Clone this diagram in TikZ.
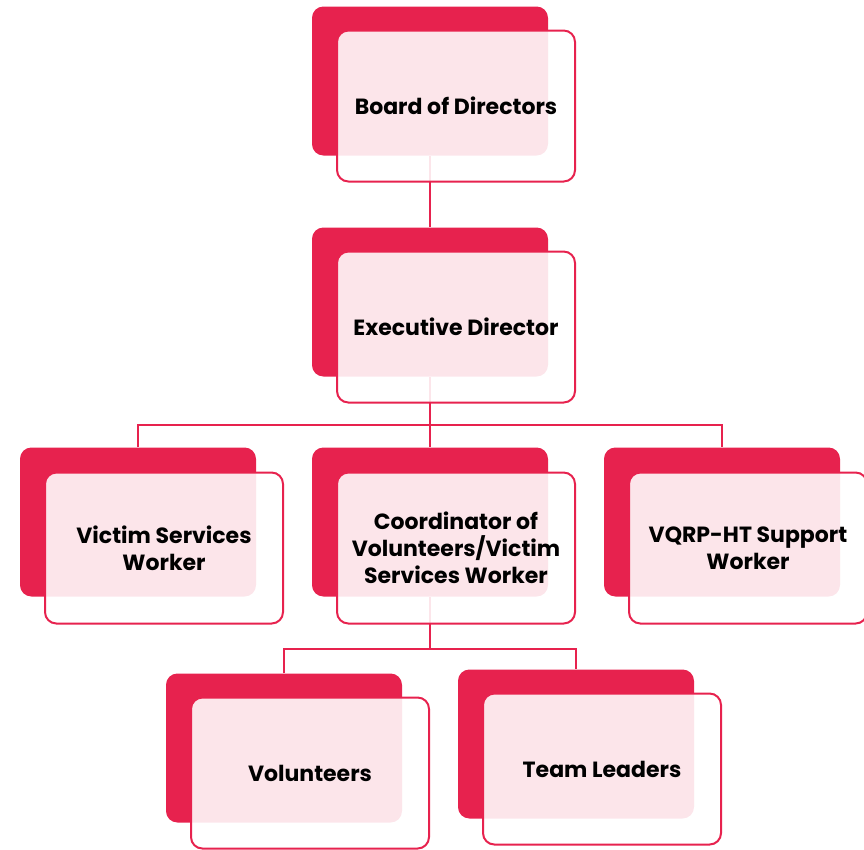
\documentclass[tikz,border=0pt]{standalone}
\usepackage{fontspec}
\setmainfont{Poppins}
\usetikzlibrary{positioning}
\definecolor{colred}{RGB}{231,34,78}
\pgfdeclarelayer{background}
\pgfsetlayers{background,main}
\tikzset{%
     backbox/.style = { fill=colred, rounded corners=4mm, minimum width=236pt, minimum height=149pt, inner sep=0pt },
    frontbox/.style = { draw=colred, line width=2pt, fill=white, fill opacity=0.885, text opacity=1,
                        rounded corners=4mm, minimum width=238pt, minimum height=151pt, inner sep=0pt,
                        align=center, font=\fontsize{22}{27}\selectfont\bfseries },
        link/.style = { draw=colred, line width=2pt }
}
\begin{document}
\begin{tikzpicture}[x=1pt,y=-1pt]

  \useasboundingbox (0,0) rectangle (864,849);

  % top
  \node[backbox]  (board-back) at (430,81) {};
  \node[frontbox] (board) at (456,106) {Board of Directors};

  \node[backbox]  (exec-back) at (430,302) {};
  \node[frontbox] (exec) at (456,327) {Executive Director};

  % middle row
  \node[backbox]  (vsw-back) at (138,522) {};
  \node[frontbox] (vsw) at (164,548) {Victim Services\\Worker};

  \node[backbox]  (coord-back) at (430,522) {};
  \node[frontbox] (coord) at (456,548) {Coordinator of\\Volunteers/Victim\\Services Worker};

  \node[backbox]  (vqrp-back) at (722,522) {};
  \node[frontbox] (vqrp) at (748,548) {VQRP-HT Support\\Worker};

  % bottom row
  \node[backbox]  (vol-back) at (284,748) {};
  \node[frontbox] (vol) at (310,773) {Volunteers};

  \node[backbox]  (team-back) at (576,744) {};
  \node[frontbox] (team) at (602,769) {Team Leaders};

  \coordinate (bus-one) at (430,425);
  \coordinate (bus-two) at (430,649);

  \begin{pgfonlayer}{background}
    \draw[link] (board-back) -- (exec-back);
    \draw[link] (exec-back) -- (coord-back);
    \draw[link] (vsw-back.north) |- (bus-one) -| (vqrp-back.north);
    \draw[link] (coord-back) -- (bus-two);
    \draw[link] (vol-back.north) |- (bus-two) -| (team-back.north);
  \end{pgfonlayer}

\end{tikzpicture}
\end{document}
